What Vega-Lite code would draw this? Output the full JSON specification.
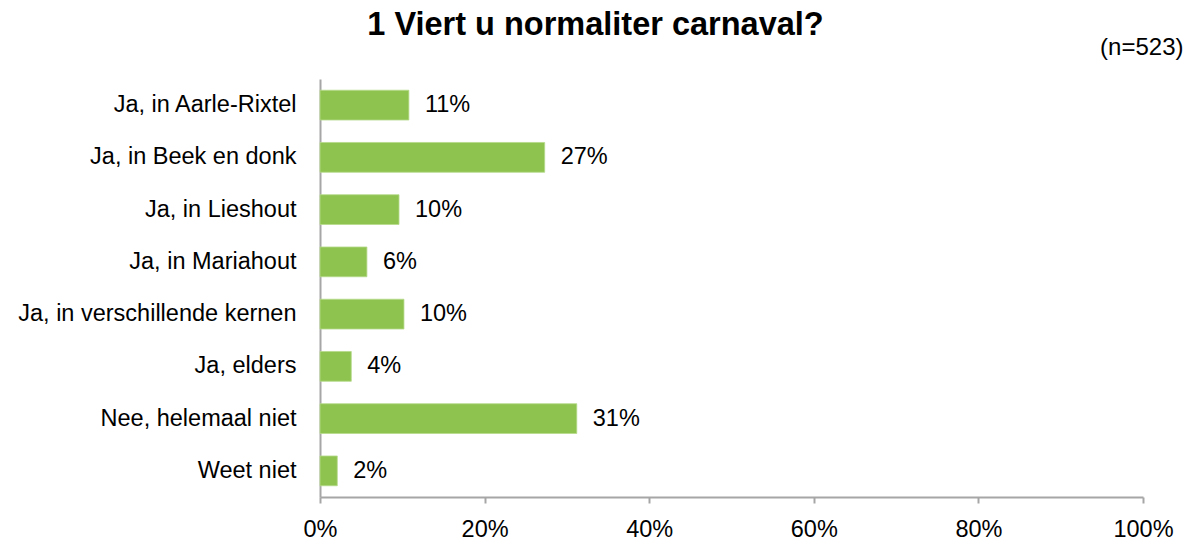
{
  "$schema": "https://vega.github.io/schema/vega-lite/v6.json",
  "autosize": "none",
  "width": 823,
  "height": 418,
  "padding": {"left": 320, "top": 79, "right": 48, "bottom": 47},
  "background": "white",
  "title": {
    "text": "1 Viert u normaliter carnaval?",
    "anchor": "middle",
    "frame": "group",
    "dx": -136,
    "dy": 3,
    "offset": -29,
    "baseline": "alphabetic",
    "font": "Liberation Sans",
    "fontSize": 32.5,
    "fontWeight": "bold",
    "color": "#000000"
  },
  "data": {
    "values": [
      {"cat": "Ja, in Aarle-Rixtel", "pct": 10.8, "label": "11%"},
      {"cat": "Ja, in Beek en donk", "pct": 27.3, "label": "27%"},
      {"cat": "Ja, in Lieshout", "pct": 9.6, "label": "10%"},
      {"cat": "Ja, in Mariahout", "pct": 5.7, "label": "6%"},
      {"cat": "Ja, in verschillende kernen", "pct": 10.2, "label": "10%"},
      {"cat": "Ja, elders", "pct": 3.8, "label": "4%"},
      {"cat": "Nee, helemaal niet", "pct": 31.2, "label": "31%"},
      {"cat": "Weet niet", "pct": 2.1, "label": "2%"}
    ]
  },
  "encoding": {
    "y": {
      "field": "cat",
      "type": "nominal",
      "sort": null,
      "scale": {"paddingInner": 0.43, "paddingOuter": 0.215},
      "axis": {
        "title": null,
        "ticks": false,
        "labelPadding": 24,
        "labelFont": "Liberation Sans",
        "labelFontSize": 23.5,
        "labelColor": "#000000",
        "domainColor": "#a6a6a6",
        "domainWidth": 2,
        "labelLimit": 400
      }
    },
    "x": {
      "field": "pct",
      "type": "quantitative",
      "scale": {"domain": [0, 100], "nice": false},
      "axis": {
        "title": "(n=523)",
        "titleX": 863,
        "titleY": -450,
        "titleAlign": "right",
        "titleBaseline": "middle",
        "titleFont": "Liberation Sans",
        "titleFontSize": 24,
        "titleFontWeight": "normal",
        "titleColor": "#000000",
        "values": [0, 20, 40, 60, 80, 100],
        "labelExpr": "datum.value + '%'",
        "labelFlush": false,
        "grid": false,
        "tickSize": 6,
        "tickColor": "#a6a6a6",
        "tickWidth": 2,
        "domainColor": "#a6a6a6",
        "domainWidth": 2,
        "labelPadding": 14,
        "labelFont": "Liberation Sans",
        "labelFontSize": 23.5,
        "labelColor": "#000000"
      }
    }
  },
  "layer": [
    {
      "mark": {"type": "bar", "color": "#8fc350", "stroke": "#b5d98a", "strokeWidth": 0.8}
    },
    {
      "mark": {
        "type": "text",
        "align": "left",
        "baseline": "middle",
        "dx": 16,
        "font": "Liberation Sans",
        "fontSize": 23.5,
        "color": "#000000"
      },
      "encoding": {"text": {"field": "label"}}
    }
  ],
  "config": {"view": {"stroke": null}}
}
